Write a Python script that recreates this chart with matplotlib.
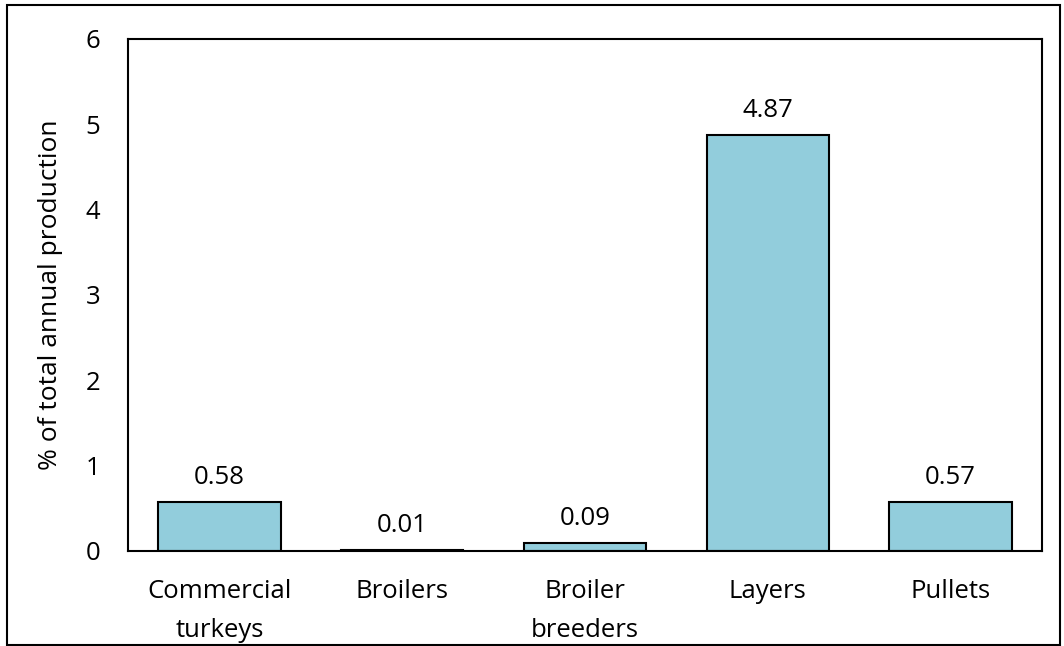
import matplotlib.pyplot as plt
from matplotlib.patches import Rectangle

categories = ['Commercial\nturkeys', 'Broilers', 'Broiler\nbreeders', 'Layers', 'Pullets']
values = [0.58, 0.01, 0.09, 4.87, 0.57]
labels = ['0.58', '0.01', '0.09', '4.87', '0.57']

plt.rcParams['font.family'] = ['Open Sans', 'DejaVu Sans']
fs = 18.5

fig = plt.figure(figsize=(10.64, 6.46), dpi=100)
ax = fig.add_axes([128 / 1064, 1 - 551 / 646, 914 / 1064, 512 / 646])

x = range(len(categories))
ax.bar(x, values, width=0.67, color='#92CDDC', edgecolor='black', linewidth=1.5)
for i, v in enumerate(values):
    ax.text(i, v + 0.14, labels[i], ha='center', va='bottom', fontsize=fs)

ax.set_xlim(-0.5, 4.5)
ax.set_ylim(0, 6)
ax.set_xticks(list(x))
ax.set_xticklabels(categories, fontsize=fs, linespacing=1.75)
ax.set_yticks(range(7))
ax.tick_params(axis='both', length=0, labelsize=fs)
ax.tick_params(axis='x', pad=20)
ax.tick_params(axis='y', pad=20)
ax.set_ylabel('% of total annual production', fontsize=fs + 0.5, labelpad=16)
for s in ax.spines.values():
    s.set_linewidth(1.5)

# outer frame around the chart
fig.patches.append(Rectangle((7 / 1064, 1 / 646), 1053 / 1064, 640 / 646,
                             transform=fig.transFigure, fill=False,
                             edgecolor='black', linewidth=1.5))

fig.savefig('out.png', dpi=100)
